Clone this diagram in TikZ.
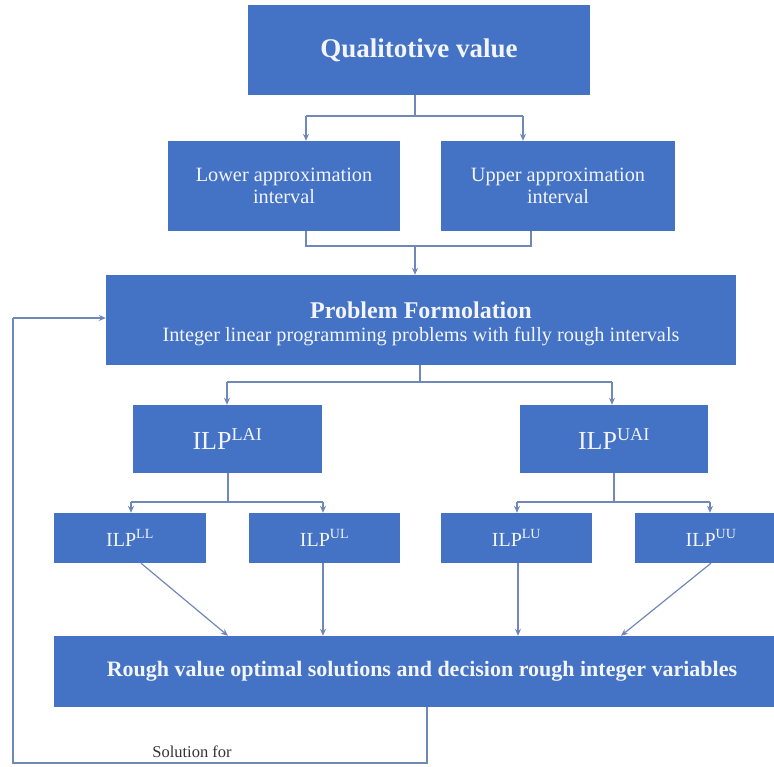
\documentclass[tikz,border=0pt]{standalone}
\usepackage{fontspec}
\setmainfont{Liberation Serif}
\usetikzlibrary{arrows.meta}
\definecolor{boxblue}{HTML}{4472C4}
\definecolor{linec}{HTML}{7088B8}
\definecolor{txtc}{HTML}{F2F5FC}
\tikzset{
  box/.style={fill=boxblue, draw=none, text=txtc, align=center, inner sep=0pt},
  conn/.style={draw=linec, line width=1.2pt},
  arr/.style={conn, -{Stealth[length=7pt,width=6pt]}},
}
\begin{document}
\begin{tikzpicture}[x=1pt,y=-1pt]
\useasboundingbox (0,0) rectangle (774,767);
\clip (0,0) rectangle (774,767);
% boxes
\node[box, minimum width=342pt, minimum height=90pt, font=\fontsize{27}{30}\selectfont\bfseries] (qv) at (419,50) {Qualitotive value};
\node[box, minimum width=232pt, minimum height=90pt, font=\fontsize{20.3}{22}\selectfont] (lo) at (284,186) {Lower approximation\\interval};
\node[box, minimum width=234pt, minimum height=90pt, font=\fontsize{20.3}{22}\selectfont] (up) at (558,186) {Upper approximation\\interval};
\node[box, minimum width=630pt, minimum height=90pt] (pf) at (421,320) {};
\node[text=txtc, align=center, inner sep=0pt, font=\fontsize{20.3}{23}\selectfont] (pft) at (421,324) {{\fontsize{24}{26}\selectfont\bfseries Problem Formolation}\\Integer linear programming problems with fully rough intervals};
\node[box, minimum width=189pt, minimum height=68pt, font=\fontsize{26}{30}\selectfont] (lai) at (227.5,439) {\raisebox{-3pt}{ILP\textsuperscript{LAI}}};
\node[box, minimum width=188pt, minimum height=68pt, font=\fontsize{26}{30}\selectfont] (uai) at (614,439) {\raisebox{-3pt}{ILP\textsuperscript{UAI}}};
\node[box, minimum width=152pt, minimum height=50pt, font=\fontsize{20}{24}\selectfont] (ll) at (130,538) {ILP\textsuperscript{LL}};
\node[box, minimum width=151pt, minimum height=50pt, font=\fontsize{20}{24}\selectfont] (ul) at (324.5,538) {ILP\textsuperscript{UL}};
\node[box, minimum width=151pt, minimum height=50pt, font=\fontsize{20}{24}\selectfont] (lu) at (516.5,538) {ILP\textsuperscript{LU}};
\node[box, minimum width=152pt, minimum height=50pt, font=\fontsize{20}{24}\selectfont] (uu) at (711,538) {ILP\textsuperscript{UU}};
\node[box, minimum width=736pt, minimum height=71pt, font=\fontsize{22}{24}\selectfont\bfseries] (rv) at (422,671.5) {Rough value optimal solutions and decision rough integer variables};
\node[text=black!80, font=\fontsize{16.5}{19}\selectfont] (sf) at (192,752) {Solution for};
% coordinates
\coordinate (j1) at (415,116);
\coordinate (j2) at (415,246);
\coordinate (j3) at (420,382);
\coordinate (j4) at (228,502);
\coordinate (j5) at (614,502);
\coordinate (fb1) at (427,763);
\coordinate (fb2) at (13,763);
\coordinate (fb3) at (13,318);
% connectors top
\draw[conn] (qv.south -| j1) -- (j1);
\draw[conn] (306,116) -- (523,116);
\draw[arr] (306,116) -- (lo.north -| 306,0);
\draw[arr] (523,116) -- (up.north -| 523,0);
\draw[conn] (lo.south -| 306,0) -- (306,246) -- (531,246) -- (up.south -| 531,0);
\draw[arr] (j2) -- (pf.north -| j2);
% problem to LAI / UAI
\draw[conn] (pf.south -| j3) -- (j3);
\draw[conn] (227,382) -- (612,382);
\draw[arr] (227,382) -- (lai.north -| 227,0);
\draw[arr] (612,382) -- (uai.north -| 612,0);
% LAI to LL/UL
\draw[conn] (lai.south -| j4) -- (j4);
\draw[conn] (131,502) -- (323,502);
\draw[arr] (131,502) -- (ll.north -| 131,0);
\draw[arr] (323,502) -- (ul.north -| 323,0);
% UAI to LU/UU
\draw[conn] (uai.south -| j5) -- (j5);
\draw[conn] (517,502) -- (710,502);
\draw[arr] (517,502) -- (lu.north -| 517,0);
\draw[arr] (710,502) -- (uu.north -| 710,0);
% to rough box
\draw[arr] (ll.south -| 141,0) -- (rv.north -| 228,0);
\draw[arr] (ul.south -| 323,0) -- (rv.north -| 323,0);
\draw[arr] (lu.south -| 518,0) -- (rv.north -| 518,0);
\draw[arr] (uu.south -| 711,0) -- (rv.north -| 621,0);
% feedback
\draw[conn] (rv.south -| fb1) -- (fb1) -- (fb2) -- (fb3);
\draw[arr] (fb3) -- (pf.west |- fb3);
\end{tikzpicture}
\end{document}
